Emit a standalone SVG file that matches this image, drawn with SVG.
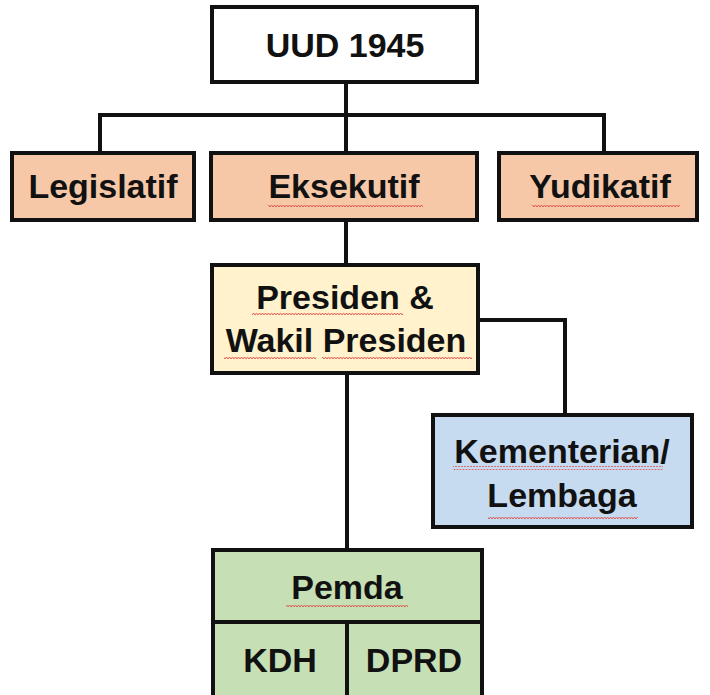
<svg xmlns="http://www.w3.org/2000/svg" width="710" height="695" viewBox="0 0 710 695">
<defs>
<pattern id="sq" width="6" height="4" patternUnits="userSpaceOnUse">
<path d="M0 3 L1.5 1 L3 3 L4.5 1 L6 3" fill="none" stroke="#e0504a" stroke-width="0.9"/>
</pattern>
</defs>
<style>
.box{stroke:#111;stroke-width:4}
.t{font-family:"Liberation Sans",Arial,sans-serif;font-weight:bold;font-size:34px;fill:#111;text-anchor:middle}
.ln{stroke:#111;stroke-width:4;fill:none}
.sq{fill:url(#sq)}
</style>
<rect width="710" height="695" fill="#fff"/>
<g id="connectors">
<path class="ln" d="M346 82 V115 M100 115 H604 M100 113 V153 M346 115 V153 M604 113 V153"/>
<path class="ln" d="M346 220 V265"/>
<path class="ln" d="M478 320 H565 V415"/>
<path class="ln" d="M347 373 V550"/>
</g>
<g id="uud">
<rect class="box" x="212" y="7" width="265" height="75" fill="#fff"/>
<text class="t" x="345" y="57">UUD 1945</text>
</g>
<g id="legislatif">
<rect class="box" x="12" y="153" width="182" height="67" fill="#f6c8a8"/>
<text class="t" x="103" y="198">Legislatif</text>
</g>
<g id="eksekutif">
<rect class="box" x="211" y="153" width="266" height="67" fill="#f6c8a8"/>
<text class="t" x="344" y="198">Eksekutif</text>
<rect class="sq" x="268" y="203" width="155" height="4"/>
</g>
<g id="yudikatif">
<rect class="box" x="499" y="153" width="198" height="67" fill="#f6c8a8"/>
<text class="t" x="600" y="198">Yudikatif</text>
<rect class="sq" x="532" y="203" width="148" height="4"/>
</g>
<g id="presiden">
<rect class="box" x="212" y="265" width="266" height="108" fill="#fff2cc"/>
<text class="t" x="345" y="309">Presiden &amp;</text>
<text class="t" x="346" y="352">Wakil Presiden</text>
<rect class="sq" x="252" y="312" width="151" height="4"/>
<rect class="sq" x="224" y="355" width="92" height="4"/>
<rect class="sq" x="322" y="355" width="150" height="4"/>
</g>
<g id="kementerian">
<rect class="box" x="433" y="415" width="259" height="112" fill="#c6daf0"/>
<text class="t" x="562" y="463">Kementerian/</text>
<text class="t" x="562" y="507">Lembaga</text>
<rect class="sq" x="453" y="466" width="210" height="4"/>
<rect class="sq" x="488" y="515" width="150" height="4"/>
</g>
<g id="pemda">
<rect class="box" x="213" y="550" width="269" height="150" fill="#c6dfb4"/>
<path class="ln" d="M213 622 H482 M347 622 V700"/>
<text class="t" x="347" y="599">Pemda</text>
<rect class="sq" x="286" y="603" width="122" height="4"/>
<text class="t" x="280" y="672">KDH</text>
<text class="t" x="414" y="672">DPRD</text>
</g>
</svg>
